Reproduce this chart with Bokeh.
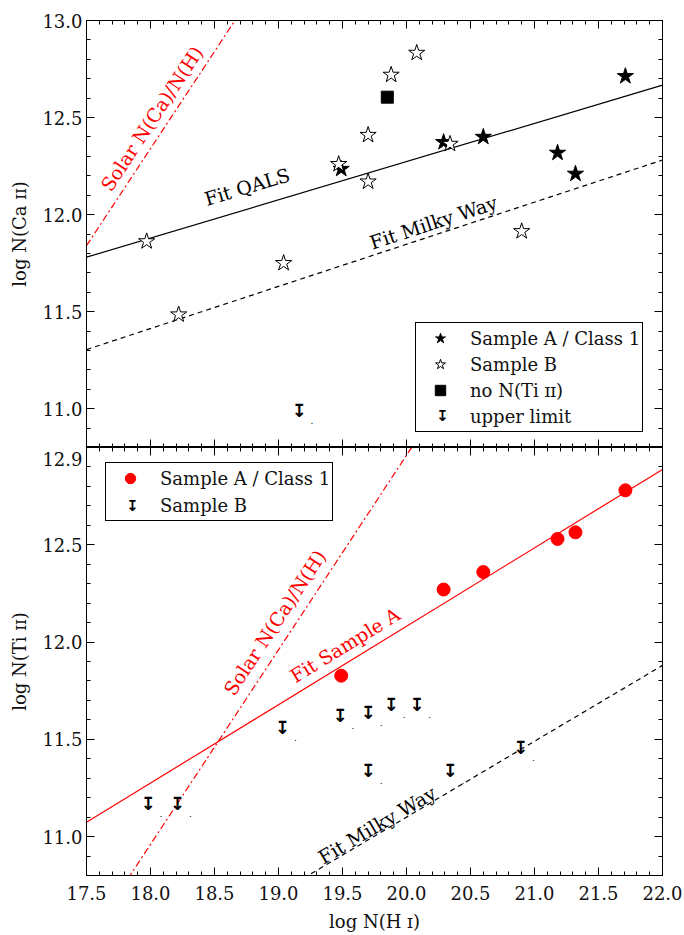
import numpy as np
from bokeh.plotting import figure
from bokeh.layouts import column
from bokeh.models import (Range1d, LinearAxis, SingleIntervalTicker, FixedTicker, Legend,
                          LegendItem, Label, PrintfTickFormatter)
from bokeh.core.properties import value
from bokeh.embed import file_html
from bokeh.resources import INLINE

SERIF = "DejaVu Serif"

# ---------------- data ----------------
# Sample A / Class 1
sampleA_logNHI = [19.49, 20.29, 20.60, 21.18, 21.32, 21.71]
sampleA_logNCaII = [12.235, 12.373, 12.40, 12.318, 12.21, 12.713]
sampleA_logNTiII = [11.827, 12.27, 12.36, 12.53, 12.564, 12.78]

# Sample B (Ca II detections)
sampleB_logNHI = [17.97, 18.22, 19.04, 19.47, 19.70, 19.70, 19.88, 20.08, 20.34, 20.90]
sampleB_logNCaII = [11.862, 11.485, 11.75, 12.26, 12.41, 12.17, 12.72, 12.833, 12.364, 11.914]

# no N(Ti II)
noTi_logNHI = [19.85]
noTi_logNCaII = [12.605]

# Ca II upper limit
ulCa_logNHI = [19.16]
ulCa_logNCaII = [10.99]

# Sample B Ti II upper limits
ulTi_logNHI = [17.98, 18.21, 19.03, 19.48, 19.70, 19.70, 19.88, 20.08, 20.34, 20.89]
ulTi_logNTiII = [11.168, 11.17, 11.56, 11.62, 11.64, 11.34, 11.68, 11.68, 11.34, 11.46]

# linear relations: log N = slope * log N(H I) + intercept
fit_qals_ca = (0.197, 8.333)
fit_mw_ca = (0.217, 7.507)
solar_ca = (1.0, -5.66)
fit_sampleA_ti = (0.403, 4.021)
fit_mw_ti = (0.39, 3.30)
solar_ti = (1.0, -7.04)

# y tick labels of the lower panel
ti_tick_values = [11.0, 11.5, 12.0, 12.5]

X_MIN, X_MAX = 17.5, 22.0
Y_MIN, Y_MAX = 10.8, 13.0
FRAME_W = 576


def px_to_data(frame_h, px_x, px_y):
    # pixels from the frame's bottom-left corner -> data coordinates
    x = X_MIN + px_x * (X_MAX - X_MIN) / FRAME_W
    y = Y_MIN + px_y * (Y_MAX - Y_MIN) / frame_h
    return x, y


def style_axis(ax, show_labels):
    ax.ticker = SingleIntervalTicker(interval=0.5, num_minor_ticks=5)
    ax.formatter = PrintfTickFormatter(format="%.1f")
    ax.major_tick_in = 8
    ax.major_tick_out = 0
    ax.minor_tick_in = 4
    ax.minor_tick_out = 0
    ax.axis_line_color = "black"
    ax.major_tick_line_color = "black"
    ax.minor_tick_line_color = "black"
    ax.major_label_text_font = SERIF
    ax.major_label_text_font_size = "18px"
    ax.major_label_text_color = "#111111"
    ax.axis_label_text_font = SERIF
    ax.axis_label_text_font_size = "18px"
    ax.axis_label_text_font_style = "normal"
    ax.axis_label_text_color = "#111111"
    if not show_labels:
        ax.major_label_text_font_size = "0px"
        ax.major_label_text_color = None
        ax.major_label_standoff = 0


def make_panel(ylabel, frame_h, top_border, bottom_border, xlabel=None, edge_label=False):
    p = figure(frame_width=FRAME_W, frame_height=frame_h,
               x_range=Range1d(X_MIN, X_MAX), y_range=Range1d(Y_MIN, Y_MAX),
               x_axis_location=None, y_axis_location=None,
               output_backend="svg", toolbar_location=None,
               min_border_left=86, min_border_right=22,
               min_border_top=top_border, min_border_bottom=bottom_border)
    p.xgrid.visible = False
    p.ygrid.visible = False
    p.outline_line_color = "black"
    p.background_fill_color = "white"
    p.border_fill_color = "white"

    if edge_label:
        # inner axis: ticks only
        tick_ax = LinearAxis()
        style_axis(tick_ax, False)
        p.add_layout(tick_ax, "left")
        # outer axis: labels only; the top label ("13.0") is placed just inside
        # the panel so that it is not cut by the edge shared with the upper panel
        left = LinearAxis(axis_label=ylabel)
        style_axis(left, True)
        _, y_edge = px_to_data(frame_h, 0, frame_h - 11)
        left.ticker = FixedTicker(ticks=ti_tick_values + [y_edge], minor_ticks=[])
        left.major_tick_in = 0
        left.minor_tick_in = 0
        left.axis_line_color = None
        left.major_tick_line_color = None
        left.minor_tick_line_color = None
    else:
        left = LinearAxis(axis_label=ylabel)
        style_axis(left, True)
    left.major_label_standoff = 4
    left.axis_label_standoff = 9
    p.add_layout(left, "left")

    right = LinearAxis()
    style_axis(right, False)
    p.add_layout(right, "right")

    top = LinearAxis()
    style_axis(top, False)
    p.add_layout(top, "above")

    if xlabel is not None:
        bottom = LinearAxis(axis_label=xlabel)
        style_axis(bottom, True)
        bottom.major_label_standoff = 10
        bottom.axis_label_standoff = 8
    else:
        bottom = LinearAxis()
        style_axis(bottom, False)
    p.add_layout(bottom, "below")
    return p


def line_xy(rel):
    xs = np.array([X_MIN, X_MAX])
    return xs, rel[0] * xs + rel[1]


def annot(p, x, y, text, angle_deg, color):
    p.add_layout(Label(x=x, y=y, text=text, angle=np.deg2rad(angle_deg),
                       text_align="center", text_baseline="middle",
                       text_font=SERIF, text_font_size="19px", text_color=color))


def arrows(p, xs, ys):
    r = p.text(x=xs, y=ys, text=value("\u21a7"), text_font=value("DejaVu Sans"),
               text_font_style="bold", text_font_size="18px", text_color="black",
               text_align="center", text_baseline="middle")
    p.text(x=xs, y=ys, text=value("."), text_font=value("DejaVu Sans"),
           text_font_size="9px", text_color="black", text_align="center",
           text_baseline="alphabetic", x_offset=13, y_offset=10)
    return r


def legend_arrow(p, frame_h, px_x, px_y):
    x, y = px_to_data(frame_h, px_x, px_y)
    p.add_layout(Label(x=x, y=y, text="\u21a7",
                       text_font="DejaVu Sans", text_font_style="bold", text_font_size="15px",
                       text_color="black", text_align="center", text_baseline="middle",
                       level="overlay"))


def style_legend(lg):
    lg.border_line_color = "black"
    lg.border_line_width = 1
    lg.border_line_alpha = 1
    lg.background_fill_color = "white"
    lg.background_fill_alpha = 0
    lg.label_text_font = SERIF
    lg.label_text_font_size = "18px"
    lg.label_text_color = "#111111"
    lg.padding = 2
    lg.spacing = 0
    lg.margin = 0
    lg.glyph_width = 44
    lg.glyph_height = 26
    lg.label_height = 20
    lg.label_standoff = 8


# ---------------- top panel: Ca II ----------------
H1 = 427
p1 = make_panel("log N(Ca \u026a\u026a)", H1, 20, 0)

x, y = line_xy(fit_qals_ca)
p1.line(x, y, line_color="black", line_width=1.2)
x, y = line_xy(fit_mw_ca)
p1.line(x, y, line_color="black", line_width=1.2, line_dash="5 4")
x, y = line_xy(solar_ca)
p1.line(x, y, line_color="red", line_width=1.2, line_dash="7 3 2 3")

rA = p1.scatter(sampleA_logNHI, sampleA_logNCaII, marker="star", size=17,
                fill_color="black", line_color="black")
rB = p1.scatter(sampleB_logNHI, sampleB_logNCaII, marker="star", size=17,
                fill_color="white", line_color="black", line_width=1)
rS = p1.scatter(noTi_logNHI, noTi_logNCaII, marker="square", size=12,
                fill_color="black", line_color="black")
rU = arrows(p1, ulCa_logNHI, ulCa_logNCaII)

annot(p1, 18.01, 12.495, "Solar N(Ca)/N(H)", 56.6, "red")
annot(p1, 18.754, 12.144, "Fit QALS", 16.6, "black")
annot(p1, 20.21, 11.96, "Fit Milky Way", 18.2, "black")

lg1 = Legend(items=[LegendItem(label="Sample A / Class 1", renderers=[rA]),
                    LegendItem(label="Sample B", renderers=[rB]),
                    LegendItem(label="no N(Ti \u026a\u026a)", renderers=[rS]),
                    LegendItem(label="upper limit", renderers=[rU])],
             location=(329, 15))
style_legend(lg1)
p1.add_layout(lg1)
legend_arrow(p1, H1, 356, 32)

# ---------------- bottom panel: Ti II ----------------
H2 = 428
p2 = make_panel("log N(Ti \u026a\u026a)", H2, 0, 61, xlabel="log N(H \u026a)", edge_label=True)

x, y = line_xy(fit_sampleA_ti)
p2.line(x, y, line_color="red", line_width=1.2)
x, y = line_xy(fit_mw_ti)
p2.line(x, y, line_color="black", line_width=1.2, line_dash="5 4")
x, y = line_xy(solar_ti)
p2.line(x, y, line_color="red", line_width=1.2, line_dash="7 3 2 3")

rA2 = p2.scatter(sampleA_logNHI, sampleA_logNTiII, marker="circle", size=13,
                 fill_color="red", line_color="red")
rU2 = arrows(p2, ulTi_logNHI, ulTi_logNTiII)

annot(p2, 18.97, 12.10, "Solar N(Ca)/N(H)", 56.7, "red")
annot(p2, 19.52, 11.985, "Fit Sample A", 31.5, "red")
annot(p2, 19.77, 11.06, "Fit Milky Way", 30.7, "black")

lg2 = Legend(items=[LegendItem(label="Sample A / Class 1", renderers=[rA2]),
                    LegendItem(label="Sample B", renderers=[rU2])],
             location=(19, 354))
style_legend(lg2)
lg2.spacing = 1
p2.add_layout(lg2)
legend_arrow(p2, H2, 46, 370)

layout = column(p1, p2)
open("out.html", "w").write(file_html(layout, INLINE))
